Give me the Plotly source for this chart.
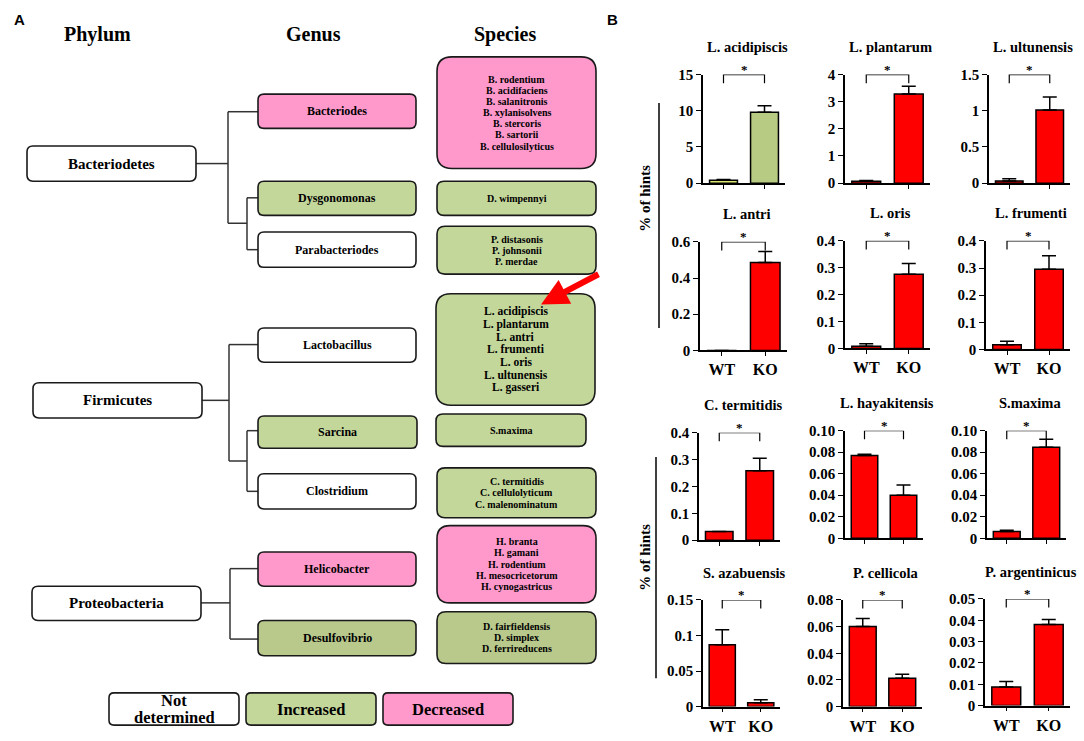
import plotly.graph_objects as go

W, H = 1084, 741
SERIF = "Liberation Serif"

# ---------------- DATA: panel B ----------------
groups = ["WT", "KO"]
species_b = ["L. acidipiscis", "L. plantarum", "L. ultunensis",
             "L. antri", "L. oris", "L. frumenti",
             "C. termitidis", "L. hayakitensis", "S.maxima",
             "S. azabuensis", "P. cellicola", "P. argentinicus"]
wt_mean = [0.40, 0.07, 0.03, 0.0, 0.008, 0.017, 0.033, 0.077, 0.0064, 0.087, 0.060, 0.0087]
wt_err = [0.10, 0.03, 0.03, 0.0, 0.010, 0.013, 0.0, 0.001, 0.001, 0.021, 0.006, 0.0026]
ko_mean = [9.8, 3.28, 1.01, 0.486, 0.276, 0.295, 0.258, 0.040, 0.0845, 0.0055, 0.0213, 0.038]
ko_err = [0.9, 0.29, 0.18, 0.06, 0.04, 0.05, 0.047, 0.0095, 0.0075, 0.004, 0.003, 0.0024]
tick_vals = [[0, 5, 10, 15], [0, 1, 2, 3, 4], [0, 0.5, 1, 1.5],
             [0, 0.2, 0.4, 0.6], [0, 0.1, 0.2, 0.3, 0.4], [0, 0.1, 0.2, 0.3, 0.4],
             [0, 0.1, 0.2, 0.3, 0.4], [0, 0.02, 0.04, 0.06, 0.08, 0.10], [0, 0.02, 0.04, 0.06, 0.08, 0.10],
             [0, 0.05, 0.1, 0.15], [0, 0.02, 0.04, 0.06, 0.08], [0, 0.01, 0.02, 0.03, 0.04, 0.05]]
tick_text = [["0", "5", "10", "15"], ["0", "1", "2", "3", "4"], ["0", "0.5", "1", "1.5"],
             ["0", "0.2", "0.4", "0.6"], ["0", "0.1", "0.2", "0.3", "0.4"], ["0", "0.1", "0.2", "0.3", "0.4"],
             ["0", "0.1", "0.2", "0.3", "0.4"], ["0", "0.02", "0.04", "0.06", "0.08", "0.10"],
             ["0", "0.02", "0.04", "0.06", "0.08", "0.10"],
             ["0", "0.05", "0.1", "0.15"], ["0", "0.02", "0.04", "0.06", "0.08"],
             ["0", "0.01", "0.02", "0.03", "0.04", "0.05"]]
y_label = "% of hints"

# ---------------- DATA: panel A ----------------
phyla = ["Bacteriodetes", "Firmicutes", "Proteobacteria"]
genera = ["Bacteriodes", "Dysgonomonas", "Parabacteriodes", "Lactobacillus",
          "Sarcina", "Clostridium", "Helicobacter", "Desulfovibrio"]
genus_status = ["dec", "inc", "nd", "nd", "inc", "nd", "dec", "inc2"]
species_lists = [
    ["B. rodentium", "B. acidifaciens", "B. salanitronis", "B. xylanisolvens",
     "B. stercoris", "B. sartorii", "B. cellulosilyticus"],
    ["D. wimpennyi"],
    ["P. distasonis", "P. johnsonii", "P. merdae"],
    ["L. acidipiscis", "L. plantarum", "L. antri", "L. frumenti", "L. oris",
     "L. ultunensis", "L. gasseri"],
    ["S.maxima"],
    ["C. termitidis", "C. cellulolyticum", "C. malenominatum"],
    ["H. branta", "H. gamani", "H. rodentium", "H. mesocricetorum", "H. cynogastricus"],
    ["D. fairfieldensis", "D. simplex", "D. ferrireducens"],
]
species_status = ["dec", "inc", "inc", "inc", "inc", "inc", "dec", "inc2"]
legend_labels = [["Not", "determined"], ["Increased"], ["Decreased"]]
legend_status = ["nd", "inc", "dec"]
headers = ["Phylum", "Genus", "Species"]

# ---------------- STYLE / LAYOUT ----------------
fills = {"nd": "#ffffff", "inc": "#c4d79b", "inc2": "#b9c98c", "dec": "#ff99cc"}
bar_colors = [["#dde86f", "#b8cb82"]] + [["#ff0000", "#ff0000"]] * 11

# pixel boxes of the 12 bar subplots (x0, x1, ytop, ybottom)
plot_boxes = [(703, 785, 68, 179), (845, 930, 68, 179), (989, 1070, 68, 179),
              (700, 787, 239, 350), (845, 930, 238, 348), (986, 1070, 238, 349),
              (699, 780, 434, 544), (845, 923, 432, 542), (987, 1066, 432, 542),
              (703, 780, 605, 714), (843, 922, 605, 714), (985, 1070, 604, 713)]

phylum_boxes = [(27, 196, 141, 177), (33, 202, 383, 419), (32, 201, 591, 626)]
genus_boxes = [(258, 416, 88, 123), (258, 416, 177, 212), (258, 416, 229, 265), (258, 416, 327, 362),
               (258, 417, 417, 450), (258, 416, 476, 512), (258, 416, 556, 591), (258, 416, 626, 662)]
species_boxes = [(437, 596, 50, 164, 15), (437, 596, 177, 212, 7), (437, 596, 223, 272, 8),
                 (436, 595, 292, 406, 15), (436, 586, 415, 448, 7), (437, 596, 470, 521, 8),
                 (437, 596, 529, 608, 13), (437, 596, 617, 670, 9)]
species_font = [10, 10, 10, 11.5, 10, 10, 10, 10]
species_gap = [11.4, 11.4, 11.2, 12.9, 11.4, 11.5, 11.5, 11.3]
legend_boxes = [(109, 239, 700, 733), (246, 376, 700, 733), (383, 513, 700, 733)]
legend_gap = 18
header_pos = [(97, 27), (313, 27), (505, 27)]
tree_lines = [
    # Bacteriodetes
    (196, 159, 228, 159), (228, 106, 228, 220), (228, 106, 258, 106), (228, 220, 247, 220),
    (247, 194, 247, 247), (247, 194, 258, 194), (247, 247, 258, 247),
    # Firmicutes
    (202, 401, 229, 401), (229, 344, 229, 463), (229, 344, 258, 344), (229, 463, 247, 463),
    (247, 432, 247, 494), (247, 432, 258, 432), (247, 494, 258, 494),
    # Proteobacteria
    (201, 608, 230, 608), (230, 573, 230, 645), (230, 573, 258, 573), (230, 645, 258, 645),
]


def px(x):
    return x / W


def py(y):
    return 1 - y / H


def rrect_path(x0, x1, y0, y1, r):
    pts = [("M", [(x0 + r, y0)]), ("L", [(x1 - r, y0)]), ("Q", [(x1, y0), (x1, y0 + r)]),
           ("L", [(x1, y1 - r)]), ("Q", [(x1, y1), (x1 - r, y1)]), ("L", [(x0 + r, y1)]),
           ("Q", [(x0, y1), (x0, y1 - r)]), ("L", [(x0, y0 + r)]), ("Q", [(x0, y0), (x0 + r, y0)])]
    s = ""
    for cmd, ps in pts:
        s += cmd + " " + " ".join(f"{px(a):.5f},{py(b):.5f}" for a, b in ps) + " "
    return s + "Z"


def label(x, y, text, size, family=SERIF, **kw):
    d = dict(xref="paper", yref="paper", x=px(x), y=py(y), text=text, showarrow=False,
             xanchor="center", yanchor="middle",
             font=dict(family=family, size=size, color="black", weight="bold"))
    d.update(kw)
    return d


fig = go.Figure()
shapes = []
annotations = []

# ---------------- Panel B: bar charts ----------------
for i in range(12):
    k = i + 1
    xa, ya = f"x{k}", f"y{k}"
    x0, x1, yt, yb = plot_boxes[i]
    ymax = tick_vals[i][-1]
    fig.add_trace(go.Bar(
        x=groups, y=[wt_mean[i], ko_mean[i]], xaxis=xa, yaxis=ya,
        marker=dict(color=bar_colors[i], line=dict(color="black", width=1.5)),
        width=0.68,
        error_y=dict(type="data", symmetric=False, array=[wt_err[i], ko_err[i]],
                     arrayminus=[0, 0], color="black", thickness=1.5, width=7),
        showlegend=False, hoverinfo="skip"))
    # significance bracket
    fig.add_trace(go.Scatter(
        x=[groups[0], groups[0], groups[1], groups[1]],
        y=[ymax * 0.92, ymax, ymax, ymax * 0.92], xaxis=xa, yaxis=ya,
        mode="lines", line=dict(color="black", width=1.2), cliponaxis=False,
        showlegend=False, hoverinfo="skip"))
    annotations.append(dict(xref=xa, yref=ya, x=0.5, y=ymax, text="*", showarrow=False,
                            xanchor="center", yanchor="bottom", yshift=-4,
                            font=dict(family=SERIF, size=13, color="black", weight="bold")))
    show_x = (i // 3) in (1, 3)
    fig.layout[f"xaxis{k}"] = dict(
        domain=[px(x0), px(x1)], anchor=ya, type="category", range=[-0.5, 1.5],
        showline=True, linecolor="black", linewidth=1.5, ticks="outside", ticklen=4,
        tickcolor="black", tickwidth=1.2, showticklabels=show_x, showgrid=False, zeroline=False,
        tickfont=dict(family=SERIF, size=16, color="black", weight="bold"), fixedrange=True)
    fig.layout[f"yaxis{k}"] = dict(
        domain=[py(yb), py(yt)], anchor=xa, range=[0, ymax],
        tickvals=tick_vals[i], ticktext=tick_text[i],
        showline=True, linecolor="black", linewidth=1.5, ticks="outside", ticklen=5,
        tickcolor="black", tickwidth=1.2, showgrid=False, zeroline=False,
        tickfont=dict(family=SERIF, size=15, color="black", weight="bold"), fixedrange=True)
    annotations.append(label((x0 + x1) / 2 + 3, yt - 28, species_b[i], 14.5))

# y labels + lines
for (lx, ly), (vx, vy0, vy1) in zip([(645, 195), (645, 562)], [(659, 97, 327), (656, 459, 685)]):
    annotations.append(label(lx, ly, y_label, 15, textangle=-90))
    shapes.append(dict(type="line", xref="paper", yref="paper", x0=px(vx), x1=px(vx),
                       y0=py(vy0), y1=py(vy1), line=dict(color="black", width=1.5)))

# panel letters
annotations.append(label(19, 12, "A", 15, family="Liberation Sans"))
annotations.append(label(613, 12, "B", 15, family="Liberation Sans"))

# ---------------- Panel A: taxonomy tree ----------------
for name, (hx, hy) in zip(headers, header_pos):
    annotations.append(label(hx, hy, name, 20))

for (a, b, c, d) in tree_lines:
    shapes.append(dict(type="line", xref="paper", yref="paper", x0=px(a), y0=py(b), x1=px(c),
                       y1=py(d), line=dict(color="#333333", width=1.5)))

box_line = dict(color="#1a1a1a", width=1.6)
for name, (x0, x1, y0, y1) in zip(phyla, phylum_boxes):
    shapes.append(dict(type="path", xref="paper", yref="paper", path=rrect_path(x0, x1, y0, y1, 6),
                       fillcolor="#ffffff", line=box_line))
    annotations.append(label((x0 + x1) / 2, (y0 + y1) / 2, name, 15))

for name, st, (x0, x1, y0, y1) in zip(genera, genus_status, genus_boxes):
    shapes.append(dict(type="path", xref="paper", yref="paper", path=rrect_path(x0, x1, y0, y1, 6),
                       fillcolor=fills[st], line=box_line))
    annotations.append(label((x0 + x1) / 2, (y0 + y1) / 2, name, 12))

for names, st, (x0, x1, y0, y1, r), fs, gap in zip(species_lists, species_status, species_boxes,
                                                 species_font, species_gap):
    shapes.append(dict(type="path", xref="paper", yref="paper", path=rrect_path(x0, x1, y0, y1, r),
                       fillcolor=fills[st], line=box_line))
    cy = (y0 + y1) / 2
    n = len(names)
    for j, nm in enumerate(names):
        yy = cy + (j - (n - 1) / 2) * gap
        annotations.append(label((x0 + x1) / 2, yy, nm, fs))

for labs, st, (x0, x1, y0, y1) in zip(legend_labels, legend_status, legend_boxes):
    shapes.append(dict(type="path", xref="paper", yref="paper", path=rrect_path(x0, x1, y0, y1, 5),
                       fillcolor=fills[st], line=box_line))
    cy = (y0 + y1) / 2
    n = len(labs)
    for j, lab in enumerate(labs):
        yy = cy + (j - (n - 1) / 2) * legend_gap
        annotations.append(label((x0 + x1) / 2, yy, lab, 16.5))

# red arrow pointing at L. acidipiscis
annotations.append(dict(xref="paper", yref="paper", x=px(541), y=py(303), text="",
                        showarrow=True, ax=59, ay=-31, arrowhead=2, arrowsize=0.9,
                        arrowwidth=6, arrowcolor="#ff0000"))

fig.update_layout(
    width=W, height=H, margin=dict(l=0, r=0, t=0, b=0),
    paper_bgcolor="white", plot_bgcolor="white",
    shapes=shapes, annotations=annotations, showlegend=False, bargap=0.3,
)

fig.write_html("out.html", config={"displayModeBar": False},
               post_script="document.body.style.margin='0';")
